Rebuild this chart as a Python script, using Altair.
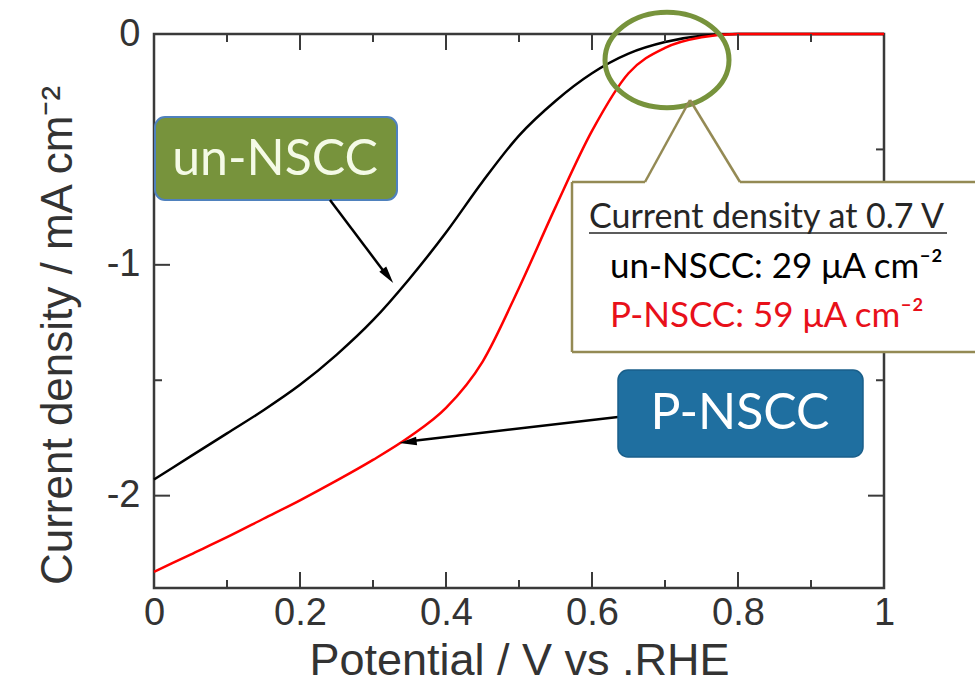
import altair as alt
import pandas as pd

# ---------------- data ----------------
potential = [0, 0.05, 0.1, 0.15, 0.2, 0.25, 0.3, 0.35, 0.4, 0.45, 0.5,
             0.55, 0.6, 0.65, 0.7, 0.75, 0.8, 0.85, 0.9, 0.95, 1.0]
un_nscc = [-1.93, -1.83, -1.73, -1.63, -1.52, -1.39, -1.24, -1.06, -0.86, -0.64, -0.44,
           -0.29, -0.17, -0.085, -0.035, -0.008, 0, 0, 0, 0, 0]
p_nscc = [-2.33, -2.255, -2.18, -2.10, -2.02, -1.935, -1.845, -1.745, -1.62, -1.42, -1.10,
          -0.75, -0.42, -0.17, -0.06, -0.014, 0, 0, 0, 0, 0]
series = ["un-NSCC", "P-NSCC"]
series_colors = ["#000000", "#ff0000"]

x_label_values = [0, 0.2, 0.4, 0.6, 0.8, 1.0]
y_label_values = [0, -1, -2]
x_major = [0.2, 0.4, 0.6, 0.8]
x_minor = [0.1, 0.3, 0.5, 0.7, 0.9]
y_major = [-1, -2]
y_minor = [-0.5, -1.5]

callout_title = "Current density at 0.7 V"
callout_un = "un-NSCC: 29 \u03bcA cm\u207b\u00b2"
callout_p = "P-NSCC: 59 \u03bcA cm\u207b\u00b2"

# ---------------- layout ----------------
W, H = 730, 554
FRAME = "#3a3a3a"
AX_FONT = "Liberation Sans"
ANN_FONT = "Lato"

df = pd.DataFrame({
    "V": potential + potential,
    "J": un_nscc + p_nscc,
    "sample": [series[0]] * len(potential) + [series[1]] * len(potential),
})

xs = alt.Scale(domain=[0, 1], nice=False, zero=False)
ys = alt.Scale(domain=[-2.4, 0], nice=False, zero=False)

x_axis = alt.Axis(
    values=x_label_values, format="~g", title="Potential / V vs .RHE",
    ticks=False, domain=False, grid=False, labelFlush=False, labelOverlap=False,
    labelFont=AX_FONT, labelFontSize=38, labelColor="#333333", labelPadding=6,
    titleFont=AX_FONT, titleFontSize=45, titleFontWeight="normal", titleColor="#333333",
    titlePadding=6)
y_axis = alt.Axis(
    values=y_label_values, labelExpr="datum.value == 0 ? '0' : '-' + abs(datum.value)",
    title="Current density / mA cm\u207b\u00b2",
    ticks=False, domain=False, grid=False, labelFlush=False, labelOverlap=False,
    labelFont=AX_FONT, labelFontSize=38, labelColor="#333333", labelPadding=14,
    titleFont=AX_FONT, titleFontSize=44, titleFontWeight="normal", titleColor="#333333",
    titlePadding=26, titleY=301)

one = pd.DataFrame({"k": [0]})

lines = alt.Chart(df).mark_line(strokeWidth=2.5, interpolate="monotone").encode(
    x=alt.X("V:Q", scale=xs, axis=x_axis),
    y=alt.Y("J:Q", scale=ys, axis=y_axis),
    color=alt.Color("sample:N", scale=alt.Scale(domain=series, range=series_colors), legend=None),
    order=alt.Order("sample:N", sort="descending"),
)

def xticks(values, length):
    d = pd.DataFrame({"V": values})
    bottom = alt.Chart(d).mark_rule(color=FRAME, strokeWidth=2).encode(
        x=alt.X("V:Q", scale=xs, axis=x_axis), y=alt.value(H), y2=alt.value(H - length))
    top = alt.Chart(d).mark_rule(color=FRAME, strokeWidth=2).encode(
        x=alt.X("V:Q", scale=xs, axis=x_axis), y=alt.value(0), y2=alt.value(length))
    return [bottom, top]

def yticks(values, length):
    d = pd.DataFrame({"J": values})
    left = alt.Chart(d).mark_rule(color=FRAME, strokeWidth=2).encode(
        y=alt.Y("J:Q", scale=ys, axis=y_axis), x=alt.value(0), x2=alt.value(length))
    right = alt.Chart(d).mark_rule(color=FRAME, strokeWidth=2).encode(
        y=alt.Y("J:Q", scale=ys, axis=y_axis), x=alt.value(W), x2=alt.value(W - length))
    return [left, right]

ticks = xticks(x_major, 16) + xticks(x_minor, 8) + yticks(y_major, 16) + yticks(y_minor, 8)

def rule(x1, y1, x2, y2, color, width):
    return alt.Chart(one).mark_rule(color=color, strokeWidth=width).encode(
        x=alt.value(x1), y=alt.value(y1), x2=alt.value(x2), y2=alt.value(y2))

def rect(x1, y1, x2, y2, **kw):
    return alt.Chart(one).mark_rect(**kw).encode(
        x=alt.value(x1), y=alt.value(y1), x2=alt.value(x2), y2=alt.value(y2))

def text(t, x, y, **kw):
    return alt.Chart(one).mark_text(text=t, **kw).encode(x=alt.value(x), y=alt.value(y))

ARROW = "M 0 -1 L 0.5 1 L -0.5 1 Z"

def head(x, y, angle):
    return alt.Chart(one).mark_point(shape=ARROW, filled=True, color="#000000", size=300,
                                      angle=angle, opacity=1).encode(x=alt.value(x), y=alt.value(y))

# un-NSCC label + arrow
un_box = rect(1, 83, 243, 166, fill="#77933C", stroke="#4F81BD", strokeWidth=2, cornerRadius=10)
un_txt = text("un-NSCC", 121, 126, font=ANN_FONT, fontSize=50, color="#F4FAE6",
              align="center", baseline="middle")
un_arrow = rule(176, 166, 231, 239, "#000000", 2.5)
un_head = head(234, 242, 143)

# P-NSCC label + arrow
p_box = rect(464, 336, 709, 423, fill="#1F6FA0", stroke="#1A5F8A", strokeWidth=1.5, cornerRadius=10)
p_txt = text("P-NSCC", 586, 380, font=ANN_FONT, fontSize=50, color="#FFFFFF",
             align="center", baseline="middle")
p_arrow = rule(464, 383, 258, 407, "#000000", 2.5)
p_head = head(254, 408, 263)

# green ellipse highlight
ELLIPSE = "M -1 0 A 1 0.77 0 1 1 1 0 A 1 0.77 0 1 1 -1 0 Z"
ellipse = alt.Chart(one).mark_point(shape=ELLIPSE, filled=False, stroke="#77933C",
                                    strokeWidth=5, size=15376, opacity=1).encode(
    x=alt.value(513), y=alt.value(26))

# callout box
CB = "#948A54"
call_bg = rect(418, 148, 840, 318, fill="#FFFFFF")
call_border = [
    rule(418, 148, 418, 318, CB, 2.5),
    rule(418, 318, 840, 318, CB, 2.5),
    rule(418, 148, 491, 148, CB, 2.5),
    rule(586, 148, 840, 148, CB, 2.5),
    rule(491, 148, 536, 66, CB, 2.5),
    rule(536, 66, 586, 148, CB, 2.5),
]
call_t1 = text(callout_title, 435, 194, font=ANN_FONT, fontSize=34, color="#262626",
               align="left", baseline="alphabetic")
call_ul = rule(435, 199, 793, 199, "#262626", 1.5)
call_t2 = text(callout_un, 456, 244, font=ANN_FONT, fontSize=35, color="#000000",
               align="left", baseline="alphabetic")
call_t3 = text(callout_p, 456, 293, font=ANN_FONT, fontSize=35, color="#E8101A",
               align="left", baseline="alphabetic")

layers = [lines] + ticks + [ellipse, un_box, un_txt, un_arrow, un_head,
                            p_arrow, p_head, p_box, p_txt,
                            call_bg] + call_border + [call_t1, call_ul, call_t2, call_t3]

chart = alt.layer(*layers).properties(
    width=W, height=H,
    background="white",
    autosize=alt.AutoSizeParams(type="none"),
    padding={"left": 154, "top": 34, "right": 91, "bottom": 100},
).configure_view(
    stroke=FRAME, strokeWidth=2.5
)

chart.save("out.html", embed_options={"renderer": "svg", "actions": False})
